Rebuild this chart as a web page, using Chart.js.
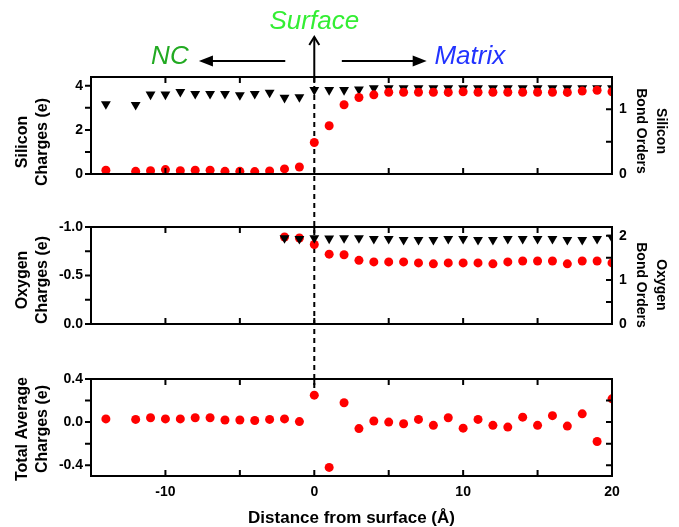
<!DOCTYPE html>
<html>
<head>
<meta charset="utf-8">
<script src="https://cdn.jsdelivr.net/npm/chart.js@4.4.1/dist/chart.umd.min.js"></script>
<style>
  html, body { margin: 0; padding: 0; background: #fff; }
  #wrap { position: relative; width: 679px; height: 527px; }
  #wrap canvas { position: absolute; left: 0; top: 0; }
</style>
</head>
<body>
<div id="wrap">
  <canvas id="totalChart" width="679" height="527" style="z-index:1"></canvas>
  <canvas id="oxChart" width="679" height="527" style="z-index:2"></canvas>
  <canvas id="siChart" width="679" height="527" style="z-index:3"></canvas>
</div>
<script>
// distance from surface (Å)
const distance   = [-14, -12, -11, -10, -9, -8, -7, -6, -5, -4, -3, -2, -1, 0, 1, 2, 3, 4, 5, 6, 7, 8, 9, 10, 11, 12, 13, 14, 15, 16, 17, 18, 19, 20];
const oxDistance = [-2, -1, 0, 1, 2, 3, 4, 5, 6, 7, 8, 9, 10, 11, 12, 13, 14, 15, 16, 17, 18, 19, 20];

const siCharge    = [0.17, 0.12, 0.15, 0.20, 0.15, 0.17, 0.17, 0.12, 0.12, 0.11, 0.14, 0.23, 0.32, 1.43, 2.19,
                     3.14, 3.47, 3.59, 3.71, 3.71, 3.71, 3.71, 3.70, 3.73, 3.71, 3.71, 3.71, 3.71, 3.71, 3.71, 3.70, 3.76, 3.80, 3.73];
const siBondOrder = [1.08, 1.07, 1.23, 1.23, 1.27, 1.24, 1.24, 1.24, 1.22, 1.24, 1.26, 1.18, 1.19, 1.30, 1.30,
                     1.30, 1.31, 1.33, 1.33, 1.33, 1.33, 1.33, 1.33, 1.33, 1.33, 1.33, 1.33, 1.33, 1.33, 1.33, 1.33, 1.33, 1.33, 1.33];
const oxCharge    = [-0.897, -0.887, -0.82, -0.72, -0.714, -0.656, -0.64, -0.64, -0.64, -0.63, -0.62, -0.63,
                     -0.63, -0.63, -0.62, -0.64, -0.65, -0.65, -0.65, -0.62, -0.65, -0.65, -0.63];
const oxBondOrder = [1.95, 1.93, 1.95, 1.94, 1.95, 1.95, 1.93, 1.93, 1.91, 1.91, 1.91, 1.93,
                     1.93, 1.91, 1.91, 1.93, 1.93, 1.93, 1.93, 1.91, 1.91, 1.93, 1.96];
const totalCharge = [0.03, 0.025, 0.04, 0.03, 0.03, 0.04, 0.04, 0.02, 0.02, 0.015, 0.025, 0.03, 0.005, 0.25, -0.42,
                     0.18, -0.06, 0.01, 0.0, -0.015, 0.025, -0.03, 0.04, -0.056, 0.025, -0.03, -0.046, 0.046, -0.03, 0.06, -0.037, 0.077, -0.18, 0.216];

// ticks ('' = unlabelled minor tick)
const xTicks          = [-15, -10, -5, 0, 5, 10, 15, 20];
const xTickLabels     = ['', '-10', '', '0', '', '10', '', '20'];
const siChargeTicks   = [0, 1, 2, 3, 4];
const siChargeLabels  = ['0', '', '2', '', '4'];
const siBondTicks     = [0, 0.5, 1];
const siBondLabels    = ['0', '', '1'];
const oxChargeTicks   = [-1, -0.75, -0.5, -0.25, 0];
const oxChargeLabels  = ['-1.0', '', '-0.5', '', '0.0'];
const oxBondTicks     = [0, 0.5, 1, 1.5, 2];
const oxBondLabels    = ['0', '', '1', '', '2'];
const totalTicks      = [-0.4, -0.2, 0, 0.2, 0.4];
const totalLabels     = ['-0.4', '', '0.0', '', '0.4'];

const FONT = "'Liberation Sans', Arial, Helvetica, sans-serif";
Chart.defaults.font.family = FONT;
Chart.defaults.font.size = 14;
Chart.defaults.font.weight = 'bold';
Chart.defaults.color = '#000';

const pts = (xs, ys) => xs.map((x, i) => ({ x, y: ys[i] }));
const dots = { pointStyle: 'circle', pointRadius: 4.5, pointBackgroundColor: '#ff0000', pointBorderWidth: 0, clip: 0 };
const tris = { pointStyle: 'triangle', pointRotation: 180, pointRadius: 5.7, pointBackgroundColor: '#000', pointBorderWidth: 0, clip: 0 };

function xAxis(showLabels, height) {
  return {
    type: 'linear', position: 'bottom', min: -15, max: 20,
    grid: { display: false, drawTicks: false }, border: { display: false },
    afterBuildTicks: s => { s.ticks = xTicks.map(v => ({ value: v })); },
    afterFit: s => { s.height = height; },
    ticks: { display: showLabels, autoSkip: false, maxRotation: 0, padding: 8, callback: (v, i) => xTickLabels[i] },
    title: { display: showLabels, text: 'Distance from surface (Å)', font: { size: 17, weight: 'bold', lineHeight: 1 }, padding: 0 },
  };
}

function yAxis(pos, min, max, values, labels, width, extra) {
  return {
    type: 'linear', position: pos, min, max, ...(extra || {}),
    grid: { display: false, drawTicks: false }, border: { display: false },
    afterBuildTicks: s => { s.ticks = values.map(v => ({ value: v })); },
    afterFit: s => { s.width = width; },
    ticks: { autoSkip: false, padding: pos === 'left' ? 8 : 7, callback: (v, i) => labels[i] },
  };
}

// box round the plot area, ticks out on the left, in everywhere else
const framePlugin = {
  id: 'frame',
  afterDraw(chart) {
    const { ctx, chartArea: a, scales } = chart;
    const tk = 6;
    ctx.save();
    ctx.strokeStyle = '#000';
    ctx.lineWidth = 2;
    ctx.strokeRect(a.left, a.top, a.right - a.left, a.bottom - a.top);
    ctx.beginPath();
    scales.x.ticks.forEach(t => {
      const px = scales.x.getPixelForValue(t.value);
      ctx.moveTo(px, a.bottom); ctx.lineTo(px, a.bottom - tk);
      ctx.moveTo(px, a.top);    ctx.lineTo(px, a.top + tk);
    });
    scales.y.ticks.forEach(t => {
      const py = scales.y.getPixelForValue(t.value);
      ctx.moveTo(a.left - tk, py); ctx.lineTo(a.left, py);
      if (!scales.y1) { ctx.moveTo(a.right, py); ctx.lineTo(a.right - tk, py); }
    });
    if (scales.y1) scales.y1.ticks.forEach(t => {
      const py = scales.y1.getPixelForValue(t.value);
      ctx.moveTo(a.right, py); ctx.lineTo(a.right - tk, py);
    });
    ctx.stroke();
    ctx.restore();
  },
};

// rotated two-line axis titles
function sideTitles(items) {
  return {
    id: 'sideTitles',
    afterDraw(chart) {
      const ctx = chart.ctx;
      items.forEach(t => {
        ctx.save();
        ctx.translate(t.x, t.y);
        ctx.rotate(t.side === 'left' ? -Math.PI / 2 : Math.PI / 2);
        ctx.font = `bold ${t.size}px ${FONT}`;
        ctx.fillStyle = '#000';
        ctx.textAlign = 'center';
        ctx.textBaseline = 'middle';
        t.lines.forEach((line, i) => ctx.fillText(line, 0, i * 20));
        ctx.restore();
      });
    },
  };
}

const base = {
  responsive: false, animation: false, events: [], devicePixelRatio: 1,
  plugins: { legend: { display: false }, tooltip: { enabled: false } },
};

const siChart = new Chart(document.getElementById('siChart'), {
  type: 'scatter',
  data: { datasets: [
    { data: pts(distance, siCharge), yAxisID: 'y', ...dots },
    { data: pts(distance, siBondOrder), yAxisID: 'y1', ...tris },
  ] },
  options: {
    ...base,
    layout: { padding: { top: 77, bottom: 353, left: 0, right: 0 } },
    scales: {
      x: xAxis(false, 0),
      y: yAxis('left', 0, 4.4, siChargeTicks, siChargeLabels, 91),
      y1: yAxis('right', 0, 1.5, siBondTicks, siBondLabels, 67),
    },
  },
  plugins: [framePlugin, sideTitles([
    { side: 'left', x: 23, y: 142, size: 16, lines: ['Silicon', 'Charges (e)'] },
    { side: 'right', x: 661, y: 131, size: 14, lines: ['Silicon', 'Bond Orders'] },
  ])],
});

const oxChart = new Chart(document.getElementById('oxChart'), {
  type: 'scatter',
  data: { datasets: [
    { data: pts(oxDistance, oxBondOrder), yAxisID: 'y1', ...tris },
    { data: pts(oxDistance, oxCharge), yAxisID: 'y', ...dots },
  ] },
  options: {
    ...base,
    layout: { padding: { top: 227, bottom: 203, left: 0, right: 0 } },
    scales: {
      x: xAxis(false, 0),
      y: yAxis('left', -1, 0, oxChargeTicks, oxChargeLabels, 91, { reverse: true }),
      y1: yAxis('right', 0, 2.2, oxBondTicks, oxBondLabels, 67),
    },
  },
  plugins: [framePlugin, sideTitles([
    { side: 'left', x: 23, y: 280, size: 16, lines: ['Oxygen', 'Charges (e)'] },
    { side: 'right', x: 661, y: 285, size: 14, lines: ['Oxygen', 'Bond Orders'] },
  ])],
});

function arrowHead(ctx, x, y, dx, dy, len, half, filled) {
  const bx = x - dx * len, by = y - dy * len;
  ctx.beginPath();
  ctx.moveTo(bx - dy * half, by + dx * half);
  ctx.lineTo(x, y);
  ctx.lineTo(bx + dy * half, by - dx * half);
  if (filled) { ctx.closePath(); ctx.fill(); } else ctx.stroke();
}

// surface marker, arrows and region labels
const surfacePlugin = {
  id: 'surface',
  beforeDatasetsDraw(chart) {
    const { ctx, scales } = chart;
    const x0 = scales.x.getPixelForValue(0);
    const yTop = siChart.chartArea.top;
    const yEnd = scales.y.getPixelForValue(totalCharge[distance.indexOf(0)]);
    ctx.save();
    ctx.strokeStyle = '#000';
    ctx.fillStyle = '#000';
    ctx.lineWidth = 2;
    ctx.setLineDash([5, 4]);
    ctx.beginPath(); ctx.moveTo(x0, yTop); ctx.lineTo(x0, yEnd); ctx.stroke();
    ctx.setLineDash([]);

    ctx.beginPath(); ctx.moveTo(x0, yTop); ctx.lineTo(x0, 37); ctx.stroke();
    arrowHead(ctx, x0, 37, 0, -1, 8, 5, false);

    const ay = 61;
    const lTail = scales.x.getPixelForValue(-1.95), lTip = scales.x.getPixelForValue(-7.75);
    const rTail = scales.x.getPixelForValue(1.85),  rTip = scales.x.getPixelForValue(7.55);
    ctx.beginPath(); ctx.moveTo(lTail, ay); ctx.lineTo(lTip + 10, ay); ctx.stroke();
    arrowHead(ctx, lTip, ay, -1, 0, 14, 5.5, true);
    ctx.beginPath(); ctx.moveTo(rTail, ay); ctx.lineTo(rTip - 10, ay); ctx.stroke();
    arrowHead(ctx, rTip, ay, 1, 0, 14, 5.5, true);

    ctx.font = `italic 26px ${FONT}`;
    ctx.textAlign = 'center';
    ctx.textBaseline = 'middle';
    ctx.fillStyle = '#33ee33';
    ctx.fillText('Surface', x0, 22);
    ctx.fillStyle = '#22aa22';
    ctx.fillText('NC', scales.x.getPixelForValue(-9.7), 57);
    ctx.fillStyle = '#2233ff';
    ctx.fillText('Matrix', scales.x.getPixelForValue(10.45), 57);
    ctx.restore();
  },
};

const totalChart = new Chart(document.getElementById('totalChart'), {
  type: 'scatter',
  data: { datasets: [
    { data: pts(distance, totalCharge), yAxisID: 'y', ...dots },
  ] },
  options: {
    ...base,
    layout: { padding: { top: 379, bottom: 0, left: 0, right: 67 } },
    scales: {
      x: xAxis(true, 51),
      y: yAxis('left', -0.5, 0.4, totalTicks, totalLabels, 91),
    },
  },
  plugins: [framePlugin, surfacePlugin, sideTitles([
    { side: 'left', x: 23, y: 429, size: 16, lines: ['Total Average', 'Charges (e)'] },
  ])],
});
</script>
</body>
</html>
